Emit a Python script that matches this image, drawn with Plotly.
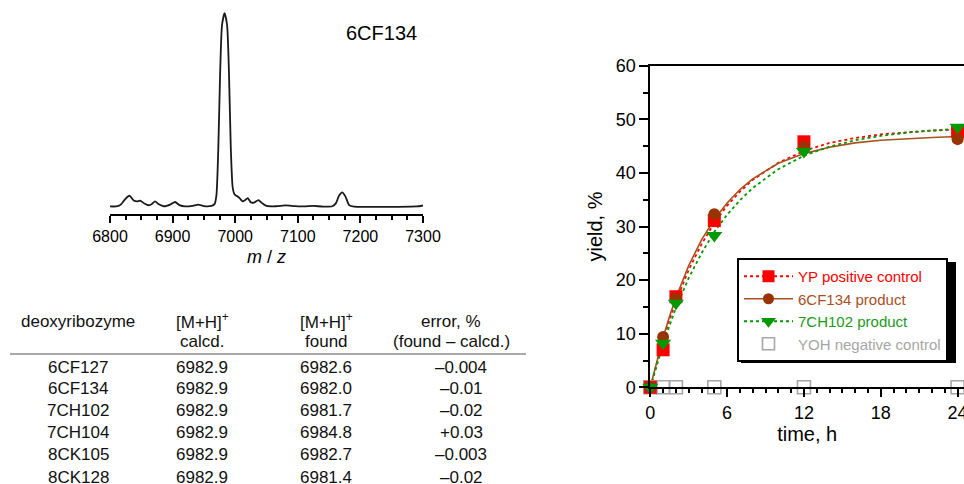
import plotly.graph_objects as go

W, H = 964, 484
OFF = 0
FONT = "Arial, 'Liberation Sans', sans-serif"

# ---------------- mass spectrum ----------------
mz = [6800, 6812, 6818, 6824, 6831, 6838, 6843, 6848, 6855, 6862, 6867, 6872, 6878,
      6886, 6897, 6904, 6911, 6920, 6932, 6941, 6950, 6962, 6967, 6970, 6973, 6976,
      6979, 6983, 6987, 6990, 6993, 6996, 6999, 7002, 7007, 7012, 7016, 7020, 7025,
      7030, 7037, 7043, 7050, 7065, 7080, 7095, 7110, 7125, 7140, 7155, 7161, 7166,
      7171, 7176, 7182, 7190, 7220, 7260, 7290, 7300]
intensity = [0.3, 0.4, 1.5, 4.0, 5.8, 3.4, 2.9, 3.3, 1.8, 0.9, 1.6, 2.9, 1.4,
             0.4, 1.4, 2.6, 1.0, 0.3, 0.6, 1.2, 0.5, 0.6, 1.5, 6, 30, 70,
             94, 100, 94, 70, 30, 10, 6.5, 5.8, 4.6, 2.9, 3.6, 4.6, 2.4,
             2.3, 3.6, 2.0, 0.6, 0.4, 0.8, 0.5, 0.3, 0.6, 0.2, 0.4, 2.0, 6.0,
             7.6, 5.5, 1.0, 0.2, 0.1, 0.1, 0.3, 0.8]

# ---------------- table ----------------
tbl_header1 = ["deoxyribozyme", "[M+H]<sup>+</sup>", "[M+H]<sup>+</sup>", "error, %"]
tbl_header2 = ["", "calcd.", "found", "(found \u2013 calcd.)"]
tbl_names = ["6CF127", "6CF134", "7CH102", "7CH104", "8CK105", "8CK128"]
tbl_calcd = ["6982.9"] * 6
tbl_found = ["6982.6", "6982.0", "6981.7", "6984.8", "6982.7", "6981.4"]
tbl_error = ["\u20130.004", "\u20130.01", "\u20130.02", "+0.03", "\u20130.003", "\u20130.02"]

# ---------------- kinetics ----------------
time_h = [0, 1, 2, 5, 12, 24]
yp_pos = [0, 7.0, 16.9, 31.1, 45.8, 47.7]
cf134 = [0, 9.4, 16.5, 32.3, 44.9, 46.3]
ch102 = [0, 8.2, 15.7, 28.3, 44.0, 48.5]
yoh_neg = [0, 0, 0, 0, 0, 0]

fit_t = [0, 0.5, 1, 1.5, 2, 3, 4, 5, 6, 7, 8, 10, 12, 14, 16, 18, 20, 22, 24, 24.5]
fit_yp = [0, 4.6, 8.8, 12.6, 16.0, 21.9, 26.7, 30.7, 33.9, 36.5, 38.7, 41.9, 44.1,
          45.6, 46.5, 47.2, 47.6, 47.9, 48.1, 48.15]
fit_cf134 = [0, 4.9, 9.3, 13.2, 16.7, 22.7, 27.5, 31.3, 34.4, 36.9, 38.9, 41.8, 43.6,
             44.8, 45.6, 46.1, 46.4, 46.6, 46.8, 46.8]
fit_ch102 = [0, 4.2, 8.0, 11.5, 14.8, 20.4, 25.0, 29.0, 32.2, 34.9, 37.2, 40.7, 43.2,
             44.9, 46.1, 46.9, 47.5, 47.9, 48.2, 48.3]

RED = "#ff0000"
BROWN = "#993300"
BROWN_LINE = "#a8501e"
GREEN = "#009900"
GRAY = "#a6a6a6"

fig = go.Figure()

# spectrum
fig.add_trace(go.Scatter(x=mz, y=intensity, mode="lines",
                         line=dict(color="#1a1a1a", width=1.8, shape="spline", smoothing=0.6),
                         xaxis="x", yaxis="y", showlegend=False, hoverinfo="skip"))

# fit curves
fig.add_trace(go.Scatter(x=fit_t, y=fit_yp, mode="lines", line=dict(color=RED, width=1.8, dash="dot"),
                         xaxis="x2", yaxis="y2", showlegend=False, cliponaxis=False))
fig.add_trace(go.Scatter(x=fit_t, y=fit_cf134, mode="lines", line=dict(color=BROWN_LINE, width=1.6),
                         xaxis="x2", yaxis="y2", showlegend=False, cliponaxis=False))
fig.add_trace(go.Scatter(x=fit_t, y=fit_ch102, mode="lines", line=dict(color=GREEN, width=1.8, dash="dot"),
                         xaxis="x2", yaxis="y2", showlegend=False, cliponaxis=False))

# data markers
fig.add_trace(go.Scatter(x=time_h, y=yoh_neg, mode="markers",
                         marker=dict(symbol="square-open", size=13, color=GRAY, line=dict(width=1.6, color=GRAY)),
                         xaxis="x2", yaxis="y2", showlegend=False, cliponaxis=False))
fig.add_trace(go.Scatter(x=time_h, y=yp_pos, mode="markers",
                         marker=dict(symbol="square", size=13, color=RED),
                         xaxis="x2", yaxis="y2", showlegend=False, cliponaxis=False))
fig.add_trace(go.Scatter(x=time_h, y=cf134, mode="markers",
                         marker=dict(symbol="circle", size=12, color=BROWN),
                         xaxis="x2", yaxis="y2", showlegend=False, cliponaxis=False))
fig.add_trace(go.Scatter(x=time_h, y=ch102, mode="markers",
                         marker=dict(symbol="triangle-down", size=14, color=GREEN),
                         xaxis="x2", yaxis="y2", showlegend=False, cliponaxis=False))

# legend entries
fig.add_trace(go.Scatter(x=[None], y=[None], mode="lines+markers", xaxis="x2", yaxis="y2",
                         name=f"<span style='color:{RED}'>YP positive control</span>",
                         line=dict(color=RED, width=1.8, dash="dot"),
                         marker=dict(symbol="square", size=12, color=RED)))
fig.add_trace(go.Scatter(x=[None], y=[None], mode="lines+markers", xaxis="x2", yaxis="y2",
                         name=f"<span style='color:{BROWN_LINE}'>6CF134 product</span>",
                         line=dict(color=BROWN_LINE, width=1.6),
                         marker=dict(symbol="circle", size=11, color=BROWN)))
fig.add_trace(go.Scatter(x=[None], y=[None], mode="lines+markers", xaxis="x2", yaxis="y2",
                         name=f"<span style='color:#1a9a1a'>7CH102 product</span>",
                         line=dict(color=GREEN, width=1.8, dash="dot"),
                         marker=dict(symbol="triangle-down", size=13, color=GREEN)))
fig.add_trace(go.Scatter(x=[None], y=[None], mode="markers", xaxis="x2", yaxis="y2",
                         name=f"<span style='color:{GRAY}'>YOH negative control</span>",
                         marker=dict(symbol="square-open", size=12, color=GRAY, line=dict(width=1.6, color=GRAY))))

def py(p):
    return 1 - (p - OFF) / H

def px(p):
    return (p - OFF) / W

def txt(x, y, s, size=17, color="#111"):
    return dict(x=px(x), y=py(y), xref="paper", yref="paper", text=s, showarrow=False,
                xanchor="center", yanchor="middle", font=dict(size=size, color=color, family=FONT))

annotations = [txt(381, 33, "6CF134", size=20, color="black")]

col_x = [78, 202, 326, 451]
data_x = [78, 202, 326, 461]
for cx, t1, t2 in zip(col_x, tbl_header1, tbl_header2):
    annotations.append(txt(cx, 321, t1))
    if t2:
        annotations.append(txt(cx, 341, t2))
row_y = [367, 388, 410, 432, 454, 477]
for i, ry in enumerate(row_y):
    for cx, col in zip(data_x, [tbl_names, tbl_calcd, tbl_found, tbl_error]):
        annotations.append(txt(cx, ry, col[i]))

LEG_X, LEG_TOP, LEG_W, LEG_H = 737, 258, 216, 102
shapes = [
    dict(type="line", xref="paper", yref="paper", x0=px(10), x1=px(526), y0=py(354), y1=py(354),
         line=dict(color="#8c8c8c", width=1.5)),
    dict(type="rect", xref="paper", yref="paper", x0=px(LEG_X + 4), x1=px(LEG_X + LEG_W + 3),
         y0=py(LEG_TOP + 4), y1=py(LEG_TOP + LEG_H + 3),
         fillcolor="black", line=dict(width=0), layer="above"),
]

fig.update_layout(
    template="none",
    width=W, height=H,
    margin=dict(l=0, r=0, t=0, b=0, autoexpand=False),
    paper_bgcolor="white", plot_bgcolor="white",
    font=dict(family=FONT, color="black"),
    showlegend=True,
    xaxis=dict(domain=[px(110), px(423)], range=[6800, 7300], anchor="y", automargin=False,
               showline=True, linewidth=2, linecolor="black", showgrid=False, zeroline=False,
               ticks="outside", ticklen=7, tickwidth=1.5, tickcolor="black",
               tick0=6800, dtick=100, tickfont=dict(size=16), ticklabeloverflow="allow",
               minor=dict(dtick=25, ticks="outside", ticklen=4, tickwidth=1.5, tickcolor="black", showgrid=False),
               title=dict(text="<i>m</i> / <i>z</i>", font=dict(size=18), standoff=6)),
    yaxis=dict(domain=[py(214), py(10)], range=[-3.6, 101.6], visible=False, anchor="x", automargin=False),
    xaxis2=dict(domain=[px(650.3), px(964)], range=[0, 24.5], anchor="y2", automargin=False,
                showline=True, linewidth=2, linecolor="black", mirror=True, showgrid=False, zeroline=False,
                ticks="outside", ticklen=8, tickwidth=1.8, tickcolor="black",
                tick0=0, dtick=6, tickfont=dict(size=18), ticklabeloverflow="allow",
                minor=dict(dtick=1, ticks="outside", ticklen=4, tickwidth=1.5, tickcolor="black", showgrid=False),
                title=dict(text="time, h", font=dict(size=20), standoff=4)),
    yaxis2=dict(domain=[py(387.3), py(65.7)], range=[0, 60], anchor="x2", automargin=False,
                showline=True, linewidth=2, linecolor="black", showgrid=False, zeroline=False,
                ticks="outside", ticklen=9, tickwidth=1.8, tickcolor="black",
                tick0=0, dtick=10, tickfont=dict(size=18),
                minor=dict(dtick=5, ticks="outside", ticklen=5, tickwidth=1.5, tickcolor="black", showgrid=False),
                title=dict(text="yield, %", font=dict(size=20), standoff=8)),
    legend=dict(x=px(LEG_X), y=py(LEG_TOP), xanchor="left", yanchor="top",
                bgcolor="white", bordercolor="black", borderwidth=2,
                font=dict(size=15, family=FONT), itemwidth=49, tracegroupgap=0,
                traceorder="normal"),
    annotations=annotations,
    shapes=shapes,
)

fig.write_html("out.html", config={"displayModeBar": False},
               post_script="document.body.style.margin='0px';document.body.style.overflow='hidden';")
